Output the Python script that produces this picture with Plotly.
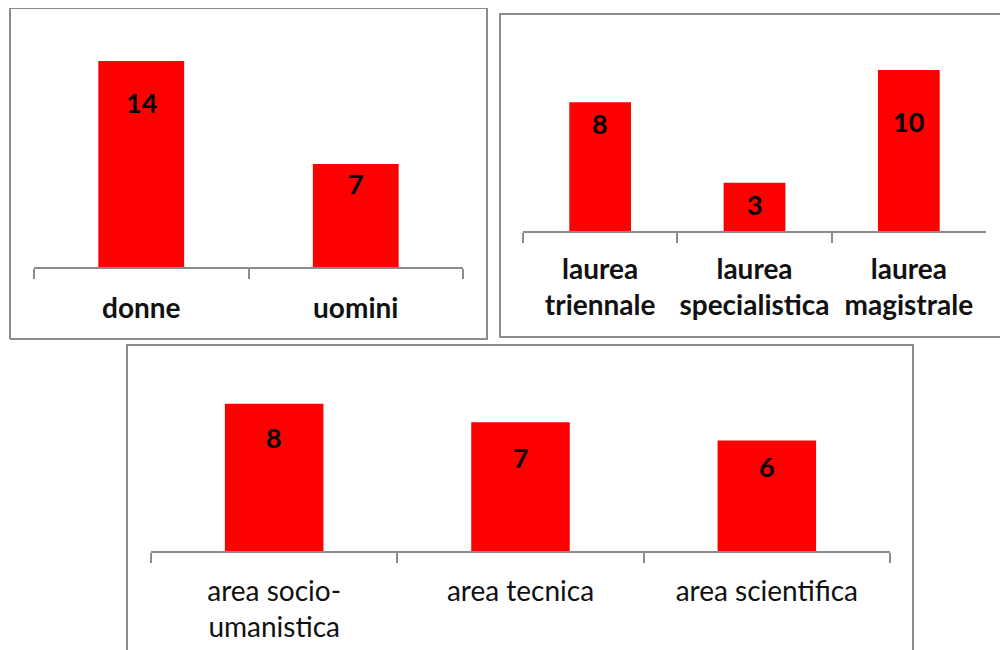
import plotly.graph_objects as go

OFF = 8                 # page body margin offset of the rendered figure
W, H = 1008 - OFF, 650 - OFF

# ---- data ----
gender_cats = ["donne", "uomini"]
gender_vals = [14, 7]

degree_cats = ["laurea<br>triennale", "laurea<br>specialistica", "laurea<br>magistrale"]
degree_vals = [8, 3, 10]

area_cats = ["area socio-<br>umanistica", "area tecnica", "area scientifica"]
area_vals = [8, 7, 6]

RED = "#FF0000"
GRAY = "#8C8C8C"

fig = go.Figure()

def px_x(x):
    return min(max((x - OFF) / W, 0), 1)

def px_y(y):
    return min(max(1 - (y - OFF) / H, 0), 1)

panels = [
    dict(cats=gender_cats, vals=gender_vals, ax="", x0=34, x1=463, base=267, ymax=15, ppu=14.71,
         shifts=[-41, -19], size=28, weight="bold", standoff=15),
    dict(cats=degree_cats, vals=degree_vals, ax="2", x0=523, x1=986, base=231, ymax=11, ppu=16.1,
         shifts=[-21, -22, -52], size=28, weight="bold", standoff=12),
    dict(cats=area_cats, vals=area_vals, ax="3", x0=151, x1=890, base=551, ymax=9, ppu=18.4,
         shifts=[-34, -35, -26], size=28, weight="normal", standoff=14),
]

for p in panels:
    xa = "x" + p["ax"]
    ya = "y" + p["ax"]
    fig.add_trace(go.Bar(
        x=p["cats"], y=p["vals"], xaxis=xa, yaxis=ya,
        marker=dict(color=RED, line=dict(width=0)),
        width=0.4, showlegend=False, hoverinfo="x+y",
    ))
    top_px = p["base"] - p["ymax"] * p["ppu"]
    xkey = "xaxis" + p["ax"]
    ykey = "yaxis" + p["ax"]
    fig.layout[xkey] = dict(
        domain=[px_x(p["x0"]), px_x(p["x1"])],
        anchor=ya, type="category", range=[-0.5, len(p["cats"]) - 0.5],
        showline=True, linecolor=GRAY, linewidth=2,
        ticks="outside", ticklen=10, tickwidth=2, tickcolor=GRAY,
        tickson="boundaries", showgrid=False, zeroline=False, tickangle=0,
        tickfont=dict(family="Lato", size=p["size"], color="#111", weight=p["weight"]),
        ticklabelstandoff=p["standoff"], fixedrange=True,
    )
    fig.layout[ykey] = dict(
        domain=[px_y(p["base"]), px_y(top_px)],
        anchor=xa, range=[0, p["ymax"]], visible=False, fixedrange=True,
    )
    for c, v, s in zip(p["cats"], p["vals"], p["shifts"]):
        fig.add_annotation(
            x=c, y=v, xref=xa, yref=ya, text=str(v), showarrow=False,
            yanchor="middle", yshift=s,
            font=dict(family="Lato", size=27, color="#000", weight="bold"),
        )

# panel frames: lists of corner points (open where the frame runs off the page)
frames = [
    [(10, 339), (10, 8), (487, 8), (487, 339), (10, 339)],
    [(1012, 14), (500, 14), (500, 337), (1012, 337)],
    [(127, 660), (127, 345), (913, 345), (913, 660)],
]
for pts in frames:
    path = "M " + " L ".join(f"{px_x(x):.5f},{px_y(y):.5f}" for x, y in pts)
    fig.add_shape(type="path", xref="paper", yref="paper", path=path,
                  line=dict(color=GRAY, width=2), layer="below")

fig.update_layout(
    width=W, height=H,
    margin=dict(l=0, r=0, t=0, b=0),
    paper_bgcolor="white", plot_bgcolor="rgba(0,0,0,0)",
    bargap=0.6,
)

fig.write_html("out.html")
